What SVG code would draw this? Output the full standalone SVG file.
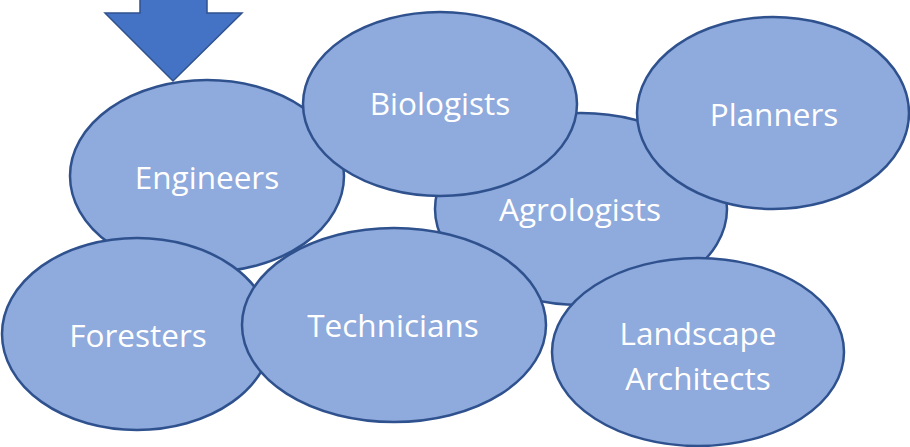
<svg xmlns="http://www.w3.org/2000/svg" width="910" height="447" viewBox="0 0 910 447">
<style>
.n ellipse{fill:#8FAADC;stroke:#2F528F;stroke-width:2.5}
.n text{fill:#FFFFFF;font-family:"Open Sans","Liberation Sans",sans-serif;font-size:31.5px;text-anchor:middle}
</style>
<rect width="910" height="447" fill="#FFFFFF"/>
<g id="connectors">
<path d="M140,-2 L207,-2 L207,13 L242,13 L173,81 L105,13 L140,13 Z" fill="#4472C4" stroke="#2F528F" stroke-width="1.5"/>
</g>
<g id="engineers" class="n"><ellipse cx="207" cy="176" rx="137" ry="96"/><text x="207" y="189">Engineers</text></g>
<g id="agrologists" class="n"><ellipse cx="581" cy="209" rx="146" ry="96"/><text x="580" y="221">Agrologists</text></g>
<g id="biologists" class="n"><ellipse cx="440" cy="104" rx="137" ry="92"/><text x="440" y="115">Biologists</text></g>
<g id="planners" class="n"><ellipse cx="773" cy="113" rx="136" ry="96"/><text x="774" y="126">Planners</text></g>
<g id="foresters" class="n"><ellipse cx="137" cy="334" rx="135" ry="96"/><text x="138" y="347">Foresters</text></g>
<g id="technicians" class="n"><ellipse cx="394" cy="325" rx="152" ry="97"/><text x="393" y="337">Technicians</text></g>
<g id="landscape-architects" class="n"><ellipse cx="698" cy="352" rx="146" ry="94"/><text x="698" y="345">Landscape</text><text x="698" y="390">Architects</text></g>
</svg>
